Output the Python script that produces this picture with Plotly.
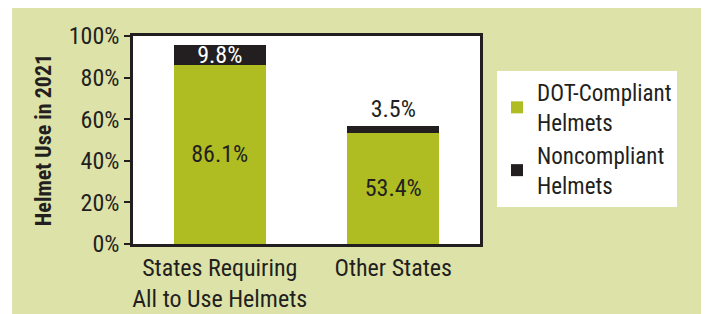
import plotly.graph_objects as go

categories = ["States Requiring<br>All to Use Helmets", "Other States"]
compliant = [86.1, 53.4]
noncompliant = [9.8, 3.5]
series_names = ["DOT-Compliant<br>Helmets", "Noncompliant<br>Helmets"]
y_ticks = [0, 20, 40, 60, 80, 100]
y_tick_labels = ["0%", "20%", "40%", "60%", "80%", "100%"]

GREEN = "#afbd22"
DARK = "#231f20"
BG = "#dde3a8"
FONT = "Roboto Condensed, Arial Narrow, sans-serif"
FS = 24

fig = go.Figure()
fig.add_trace(go.Bar(
    x=categories, y=compliant, name=series_names[0],
    marker=dict(color=GREEN, line=dict(width=0)),
    text=[f"{v:.1f}%" for v in compliant], textposition="inside",
    insidetextanchor="middle", constraintext="none",
    textfont=dict(color=DARK, size=FS, family=FONT),
    hoverinfo="skip",
))
fig.add_trace(go.Bar(
    x=categories, y=noncompliant, name=series_names[1],
    marker=dict(color=DARK, line=dict(width=0)),
    text=[f"{v:.1f}%" for v in noncompliant], textposition=["inside", "outside"],
    insidetextanchor="middle", constraintext="none",
    insidetextfont=dict(color="white", size=FS, family=FONT),
    outsidetextfont=dict(color=DARK, size=FS, family=FONT),
    cliponaxis=False,
    hoverinfo="skip",
))

fig.update_layout(
    width=709, height=314,
    barmode="stack", bargap=0.47,
    paper_bgcolor=BG, plot_bgcolor="white",
    margin=dict(l=125, r=237, t=28, b=78, autoexpand=False),
    font=dict(family=FONT, size=FS, color=DARK),
    showlegend=True,
    legend=dict(
        x=1.049, y=0.832, xanchor="left", yanchor="top",
        bgcolor="white", borderwidth=0,
        font=dict(family=FONT, size=FS - 1, color=DARK),
        traceorder="normal", itemwidth=30, tracegroupgap=6,
    ),
    shapes=[
        dict(type="rect", xref="paper", yref="paper", x0=-1, x1=-121/347, y0=-1, y1=2,
             fillcolor="white", line=dict(width=0), layer="below"),
    ],
)
fig.update_xaxes(
    showline=True, linecolor=DARK, linewidth=2.5, mirror=True, automargin=False,
    ticks="", showgrid=False, tickfont=dict(size=FS, family=FONT, color=DARK),
)
fig.update_yaxes(
    range=[0, 100], tickvals=y_ticks, ticktext=y_tick_labels, automargin=False,
    showline=True, linecolor=DARK, linewidth=2.5, mirror=True,
    ticks="outside", ticklen=6, tickwidth=2, tickcolor=DARK,
    showgrid=False, zeroline=False,
    tickfont=dict(size=FS, family=FONT, color=DARK),
    title=dict(text="<b>Helmet Use in 2021</b>", font=dict(size=22, family=FONT, color=DARK), standoff=12),
)

fig.write_html("out.html")
